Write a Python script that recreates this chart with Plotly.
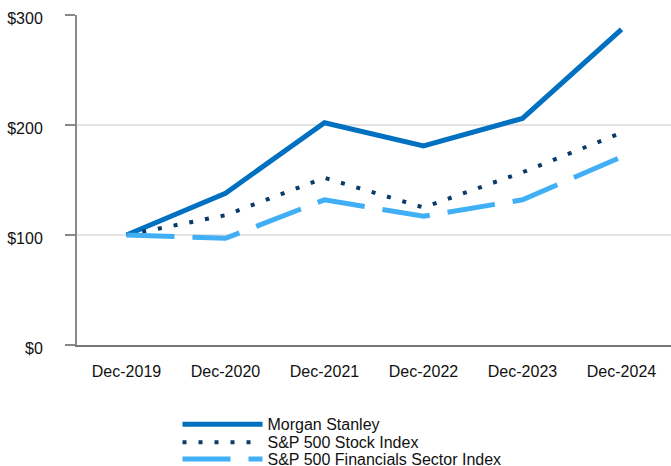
import plotly.graph_objects as go

years = ["Dec-2019", "Dec-2020", "Dec-2021", "Dec-2022", "Dec-2023", "Dec-2024"]
morgan_stanley = [100, 138, 202, 181, 206, 287]
sp500 = [100, 118, 152, 125, 157, 193]
sp500_fin = [100, 97, 132, 117, 132, 171]
y_ticks = [0, 100, 200, 300]
y_tick_labels = ["$0", "$100", "$200", "$300"]

H = 466
fig = go.Figure()
fig.add_trace(go.Scatter(x=years, y=morgan_stanley, mode="lines", name="Morgan Stanley",
                         line=dict(color="#0070C0", width=5), legend="legend"))
fig.add_trace(go.Scatter(x=years, y=sp500, mode="lines", name="S&P 500 Stock Index",
                         line=dict(color="#083B6A", width=4, dash="4px,12px"), legend="legend2"))
fig.add_trace(go.Scatter(x=years, y=sp500_fin, mode="lines", name="S&P 500 Financials Sector Index",
                         line=dict(color="#41AFF5", width=5, dash="48px,18px"), legend="legend3"))

def leg(cy):
    return dict(xref="container", yref="container", x=177.5 / 671, y=1 - cy / H,
                xanchor="left", yanchor="middle", itemwidth=80, orientation="h",
                font=dict(size=16, color="#111"), bgcolor="rgba(0,0,0,0)")

fig.update_layout(
    width=671, height=H,
    margin=dict(l=77, r=0, t=15, b=121),
    plot_bgcolor="white", paper_bgcolor="white",
    font=dict(family="Liberation Sans, Arial", size=16, color="#111"),
    showlegend=True,
    legend=leg(424.3), legend2=leg(442.3), legend3=leg(459),
)
fig.update_xaxes(type="category", range=[-0.5, 5.5], showgrid=False, showline=True,
                 linecolor="#777", linewidth=2, ticks="", ticklabelstandoff=11,
                 tickfont=dict(size=16), automargin=False, tickangle=0)
fig.update_yaxes(range=[0, 300], tickvals=y_ticks, ticktext=y_tick_labels,
                 showgrid=True, gridcolor="#E3E3E3", gridwidth=2, showline=True,
                 linecolor="#888", linewidth=2, ticks="outside", ticklen=10,
                 tickcolor="#888", tickwidth=2, ticklabelstandoff=19,
                 ticklabelshift=3,
                 zeroline=False, tickfont=dict(size=16), automargin=False)

fig.write_html("out.html", config={"displayModeBar": False},
               post_script="document.body.style.margin='0';document.body.style.padding='0';")
